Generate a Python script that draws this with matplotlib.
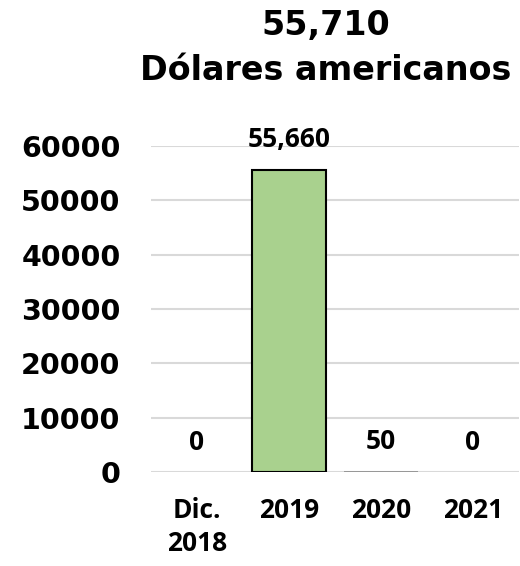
import matplotlib
matplotlib.use("Agg")
import matplotlib.pyplot as plt

categories = ["Dic.\n2018", "2019", "2020", "2021"]
values = [0, 55660, 50, 0]
value_labels = ["0", "55,660", "50", "0"]
title_lines = ["55,710", "Dólares americanos"]
yticks = [0, 10000, 20000, 30000, 40000, 50000, 60000]

fig = plt.figure(figsize=(5.2, 5.66), dpi=100)
fig.patch.set_facecolor("white")
ax = fig.add_axes([151/520, 1-472/566, 368/520, 326/566])
ax.set_facecolor("none")

x = list(range(len(categories)))
bars = ax.bar(x, values, width=0.81, color="#A9D18E", edgecolor="black",
              linewidth=1.5, zorder=3)
for b, v in zip(bars, values):
    if v == 0:
        b.set_linewidth(0)
    elif v < 1000:
        b.set_edgecolor("#8C8C8C")
        b.set_linewidth(1.2)

for xi, v, lab in zip(x, values, value_labels):
    ax.annotate(lab, (xi, v), xytext=(0, 21.5), textcoords="offset points",
                ha="center", va="center", fontsize=19, fontweight="bold",
                family="Open Sans", color="black")

ax.set_ylim(0, 60000)
ax.set_xlim(-0.5, len(categories) - 0.5)
ax.set_yticks(yticks)
ax.set_yticklabels([str(t) for t in yticks], fontsize=20.5, fontweight="bold",
                   family="DejaVu Sans")
ax.set_xticks(x)
ax.set_xticklabels(categories, fontsize=19, fontweight="bold", family="Open Sans",
                   linespacing=1.3, va="top")
ax.tick_params(axis="y", length=0, pad=22)
ax.tick_params(axis="x", length=0, pad=18)
ax.grid(axis="y", color="#D9D9D9", linewidth=1.5, zorder=0)
ax.set_axisbelow(True)
for s in ax.spines.values():
    s.set_visible(False)

fig.text(326/520, 1-25/566, title_lines[0], ha="center", va="center",
         fontsize=24, fontweight="bold", family="DejaVu Sans")
fig.text(326/520, 1-70/566, title_lines[1], ha="center", va="center",
         fontsize=24, fontweight="bold", family="DejaVu Sans")

fig.savefig("out.png", dpi=100, facecolor="white")
